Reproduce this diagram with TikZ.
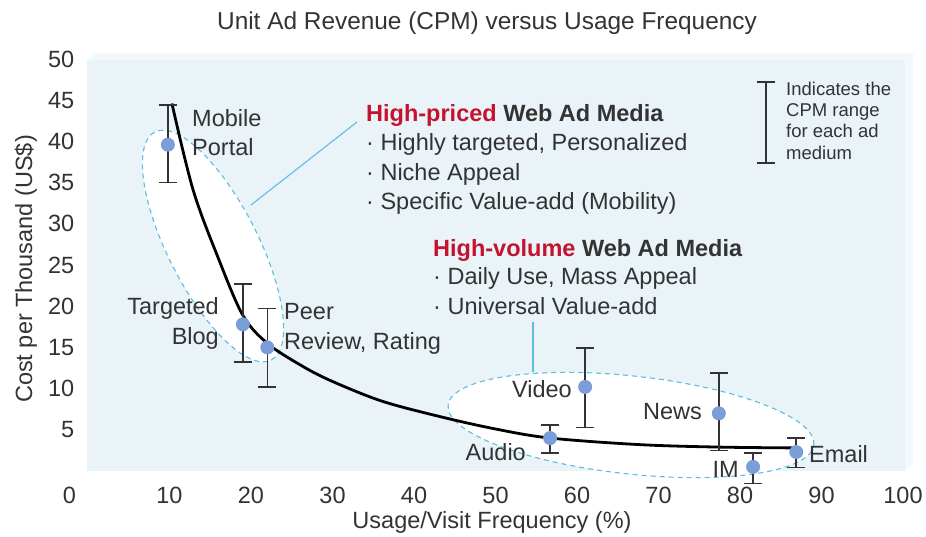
\documentclass[tikz,border=0pt]{standalone}
\usepackage{fontspec}
\setmainfont{Liberation Sans}
\definecolor{txt}{HTML}{333333}
\definecolor{bgfront}{HTML}{EAF4F8}
\definecolor{bgtop}{HTML}{F2F8FB}
\definecolor{dotc}{HTML}{7B9ED9}
\definecolor{cyanl}{HTML}{5BBDE4}
\definecolor{redt}{HTML}{C4122F}
\begin{document}
\begin{tikzpicture}[x=1pt,y=1pt,
  lbl/.style={inner sep=0pt, text=txt, font=\fontsize{23.5}{29}\selectfont},
  hd/.style={inner sep=0pt, text=txt, font=\fontsize{23.5}{29}\selectfont\bfseries},
  leg/.style={inner sep=0pt, text=txt, font=\fontsize{18.5}{21}\selectfont},
  ell/.style={draw=cyanl, dash pattern=on 5pt off 4pt, line width=1.1pt, fill=white},
  conn/.style={draw=cyanl, line width=1.1pt},
  ebar/.style={draw=txt, line width=1.5pt},
  pt/.style={circle, fill=dotc, inner sep=0pt, minimum size=14pt},
]
\useasboundingbox (0,0) rectangle (926,536);

% 3D background panel
\fill[bgfront] (87,65) rectangle (905,476);
\fill[bgtop] (87,476) -- (95,483) -- (913,483) -- (905,476) -- cycle;
\fill[bgtop] (905,476) -- (913,483) -- (913,73) -- (905,65) -- cycle;

% grouping ellipses
\draw[ell, rotate around={-63:(213,290)}] (213,290) ellipse (128 and 45);
\draw[ell, rotate around={-6.2:(631,111)}] (631,111) ellipse (184 and 49);

% connectors
\coordinate (c1e) at (251,331);
\coordinate (c1t) at (357,414);
\coordinate (c2e) at (533,164);
\coordinate (c2t) at (533,214);
\draw[conn] (c1e) -- (c1t);
\draw[conn] (c2e) -- (c2t);

% data
\begin{scope}[shift={(88,65)}, x=8.15pt, y=8.24pt]
  \draw[line width=2.8pt, black] plot[smooth, tension=0.55] coordinates
   {(10.3,44.6) (12.9,34.1) (16.0,25.8) (19.0,18.9) (22,15.5) (26,12.9) (29.7,11.0)
    (36,8.5) (43.2,6.6) (50,5.1) (56.7,4.0) (67.7,3.2) (77.5,2.9) (87,2.8)};
  \foreach \n/\x/\y/\lo/\hi in {mob/9.8/39.6/35.0/44.4, blog/19.0/17.8/13.2/22.7,
      peer/22.0/15.0/10.2/19.7, audio/56.7/4.0/2.2/5.6, video/61.0/10.2/5.3/14.9,
      news/77.4/7.0/2.5/11.9, im/81.6/0.5/-1.5/2.2, email/86.9/2.3/0.4/4.0} {
    \coordinate (\n-hi) at (\x,\hi);
    \coordinate (\n-lo) at (\x,\lo);
    \draw[ebar] (\n-lo) -- (\n-hi);
    \draw[ebar] ([xshift=-9pt]\n-hi) -- ([xshift=9pt]\n-hi);
    \draw[ebar] ([xshift=-9pt]\n-lo) -- ([xshift=9pt]\n-lo);
    \node[pt] (\n) at (\x,\y) {};
  }
\end{scope}

% title and axes
\node[inner sep=0pt, text=txt, font=\fontsize{24.4}{29}\selectfont, anchor=base] (title) at (487,506) {Unit Ad Revenue (CPM) versus Usage Frequency};
\foreach \v in {5,10,...,50} \node[lbl, anchor=east] (yt\v) at (74.5,65+8.24*\v) {\v};
\foreach \v in {10,20,...,100} \node[lbl, anchor=base] (xt\v) at (88+8.15*\v,33) {\v};
\node[lbl, anchor=base] (xt0) at (69.5,33) {0};
\node[lbl, anchor=base] (xlab) at (492,8) {Usage/Visit Frequency (\%)};
\node[lbl, rotate=90, anchor=base] (ylab) at (32,267) {Cost per Thousand (US\$)};

% point labels
\node[lbl, anchor=base west] (lmob1) at (192,409) {Mobile};
\node[lbl, anchor=base west] (lmob2) at (192,380) {Portal};
\node[lbl, anchor=base east] (lblog1) at (219,221) {Targeted};
\node[lbl, anchor=base east] (lblog2) at (219,192) {Blog};
\node[lbl, anchor=base west] (lpeer1) at (284,216) {Peer};
\node[lbl, anchor=base west] (lpeer2) at (284,187) {Review, Rating};
\node[lbl, anchor=base east] (lvideo) at (572,139) {Video};
\node[lbl, anchor=base east] (laudio) at (526,76) {Audio};
\node[lbl, anchor=base east] (lnews) at (702,117) {News};
\node[lbl, anchor=base east] (lim) at (739,59) {IM};
\node[lbl, anchor=base west] (lemail) at (809,74) {Email};

% text blocks
\node[hd, anchor=base west] (b1h) at (366,414) {\textcolor{redt}{High-priced} Web Ad Media};
\node[lbl, anchor=base west] (b1a) at (366,385) {· Highly targeted, Personalized};
\node[lbl, anchor=base west] (b1b) at (366,355) {· Niche Appeal};
\node[lbl, anchor=base west] (b1c) at (366,326) {· Specific Value-add (Mobility)};
\node[hd, anchor=base west] (b2h) at (433,279) {\textcolor{redt}{High-volume} Web Ad Media};
\node[lbl, anchor=base west] (b2a) at (433,251) {· Daily Use, Mass Appeal};
\node[lbl, anchor=base west] (b2b) at (433,222) {· Universal Value-add};

% legend
\coordinate (lg-hi) at (766,454);
\coordinate (lg-lo) at (766,373);
\draw[ebar] (lg-lo) -- (lg-hi);
\draw[ebar] ([xshift=-9pt]lg-hi) -- ([xshift=9pt]lg-hi);
\draw[ebar] ([xshift=-9pt]lg-lo) -- ([xshift=9pt]lg-lo);
\node[leg, anchor=base west] (lg1) at (786,440) {Indicates the};
\node[leg, anchor=base west] (lg2) at (786,419) {CPM range};
\node[leg, anchor=base west] (lg3) at (786,398) {for each ad};
\node[leg, anchor=base west] (lg4) at (786,376) {medium};
\end{tikzpicture}
\end{document}
